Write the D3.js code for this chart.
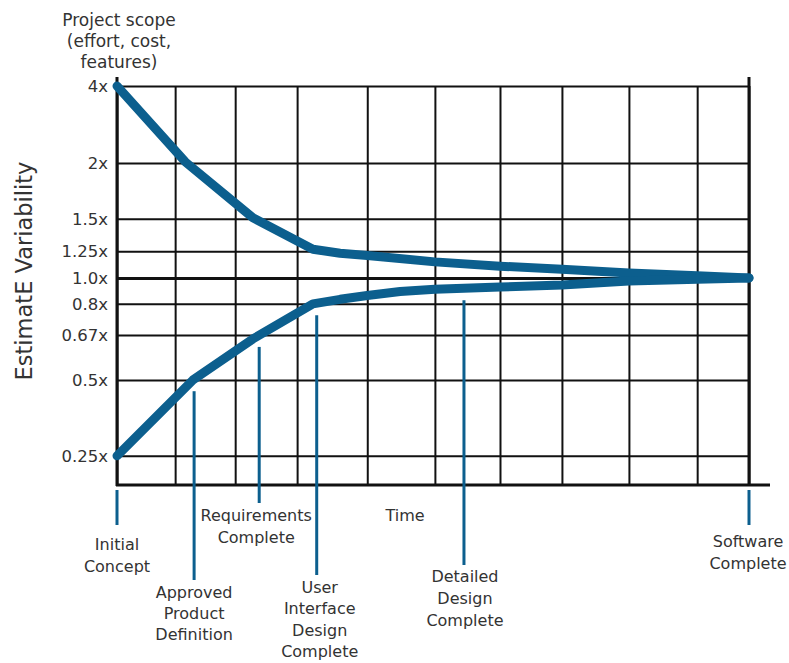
<!DOCTYPE html>
<html><head><meta charset="utf-8">
<script src="https://cdn.jsdelivr.net/npm/d3@7"></script>
<style>
body{margin:0;background:#fff}
svg{display:block;background:#fff}
text{font-family:"DejaVu Sans",sans-serif;fill:#333}
</style>
</head><body><svg id="c" width="789" height="663"></svg>
<script>
// ---- data ----
const yTickValues = [4, 2, 1.5, 1.25, 1.0, 0.8, 0.67, 0.5, 0.25];
const yTickLabels = ["4x", "2x", "1.5x", "1.25x", "1.0x", "0.8x", "0.67x", "0.5x", "0.25x"];
const gridTimes = [0, 9.2, 18.7, 28.5, 39.6, 50.3, 60.6, 70.4, 81.0, 91.8, 100];
const upperTimes = [0, 10.8, 21.5, 31.0, 35.3, 39.6, 50.3, 60.6, 70.4, 81.0, 91.8, 100];
const upperValues = [4, 2.03, 1.51, 1.265, 1.23, 1.21, 1.15, 1.11, 1.08, 1.045, 1.02, 1.0];
const lowerTimes = [0, 12.0, 21.5, 31.0, 35.3, 39.6, 44.8, 50.3, 60.6, 70.4, 81.0, 91.8, 100];
const lowerValues = [0.25, 0.5, 0.655, 0.80, 0.835, 0.865, 0.895, 0.913, 0.93, 0.946, 0.977, 0.99, 1.0];
const milestoneNames = [
  ["Initial", "Concept"],
  ["Approved", "Product", "Definition"],
  ["Requirements", "Complete"],
  ["User", "Interface", "Design", "Complete"],
  ["Detailed", "Design", "Complete"],
  ["Software", "Complete"]
];
const milestoneTimes = [0, 12.2, 22.5, 31.6, 54.9, 100];
const yTitle = "EstimatE Variability";
const scopeTitle = ["Project scope", "(effort, cost,", "features)"];
const xTitle = "Time";

// ---- layout ----
const W = 789, H = 663;
const pL = 117, pR = 749, pT = 86, pB = 485;
const blue = "#0c5f8e";
const svg = d3.select("#c");

const x = d3.scaleLinear().domain([0, 100]).range([pL, pR]);
// hand-drawn (non-uniform) vertical spacing of the variability levels
const yFrac = [1, 0.927, 0.737, 0.624, 0.546, 0.481, 0.414, 0.333, 0.193, 0];
const y = d3.scaleLinear()
  .domain([0.2, 0.25, 0.5, 0.67, 0.8, 1.0, 1.25, 1.5, 2, 4])
  .range(yFrac.map(f => pT + f * (pB - pT)));

// horizontal grid via axis
const gy = svg.append("g").attr("transform", `translate(${pL},0)`)
  .call(d3.axisLeft(y).tickValues(yTickValues)
    .tickFormat((d, i) => yTickLabels[i])
    .tickSize(-(pR - pL)).tickPadding(9));
gy.select(".domain").remove();
gy.selectAll(".tick line").attr("stroke", "#111")
  .attr("stroke-width", d => d === 1 ? 3 : 2);
gy.selectAll(".tick text").attr("font-size", 16.5)
  .attr("font-family", '"DejaVu Sans",sans-serif').attr("fill", "#333");

// vertical grid via axis
const gx = svg.append("g").attr("transform", `translate(0,${pB})`)
  .call(d3.axisBottom(x).tickValues(gridTimes).tickFormat("")
    .tickSize(-(pB - pT)).tickSizeOuter(0));
gx.select(".domain").remove();
gx.selectAll(".tick line").attr("stroke", "#111").attr("stroke-width", 2);

// frame lines
svg.append("line").attr("x1", pL).attr("x2", pL).attr("y1", pT - 9).attr("y2", pB + 1)
  .attr("stroke", "#111").attr("stroke-width", 3);
svg.append("line").attr("x1", pR).attr("x2", pR).attr("y1", pT - 9).attr("y2", pB + 1)
  .attr("stroke", "#111").attr("stroke-width", 3);
svg.append("line").attr("x1", pL - 1).attr("x2", 770).attr("y1", pB).attr("y2", pB)
  .attr("stroke", "#111").attr("stroke-width", 3);

// curves
const line = d3.line().x(d => x(d[0])).y(d => y(d[1])).curve(d3.curveLinear);
const upper = upperTimes.map((t, i) => [t, upperValues[i]]);
const lower = lowerTimes.map((t, i) => [t, lowerValues[i]]);
[upper, lower].forEach(s => {
  svg.append("path").datum(s).attr("d", line).attr("fill", "none")
    .attr("stroke", blue).attr("stroke-width", 9)
    .attr("stroke-linejoin", "round").attr("stroke-linecap", "round");
});

// milestones
const lowerAt = d3.scaleLinear().domain(lowerTimes).range(lowerValues);
const labelY = [544, 592, 515, 587, 576, 541];
const labelGap = [22, 21, 22, 21.5, 22, 22];
const labelDx = [0, 0, -3, 3, 1, -1];
const lineBottom = [525, 580, 503, 575, 565, 525];
milestoneTimes.forEach((t, i) => {
  const mx = x(t);
  const endpoint = (t === 0 || t === 100);
  const y1 = endpoint ? pB + 5 : y(lowerAt(t)) + 12;
  svg.append("line").attr("x1", mx).attr("x2", mx).attr("y1", y1).attr("y2", lineBottom[i])
    .attr("stroke", blue).attr("stroke-width", 3);
  const tx = svg.append("text").attr("text-anchor", "middle").attr("font-size", 16);
  milestoneNames[i].forEach((s, j) => {
    tx.append("tspan").attr("x", mx + labelDx[i]).attr("y", labelY[i] + j * labelGap[i]).attr("dy", "0.35em").text(s);
  });
});

// titles
const st = svg.append("text").attr("text-anchor", "middle").attr("font-size", 17);
scopeTitle.forEach((s, j) => st.append("tspan").attr("x", 119).attr("y", 20 + j * 21).attr("dy", "0.35em").text(s));
svg.append("text").attr("text-anchor", "middle").attr("font-size", 16)
  .attr("x", 405).attr("y", 515).attr("dy", "0.35em").text(xTitle);
svg.append("text").attr("text-anchor", "middle").attr("font-size", 22.5)
  .attr("transform", "translate(32,271) rotate(-90)").text(yTitle);
</script>
</body></html>
